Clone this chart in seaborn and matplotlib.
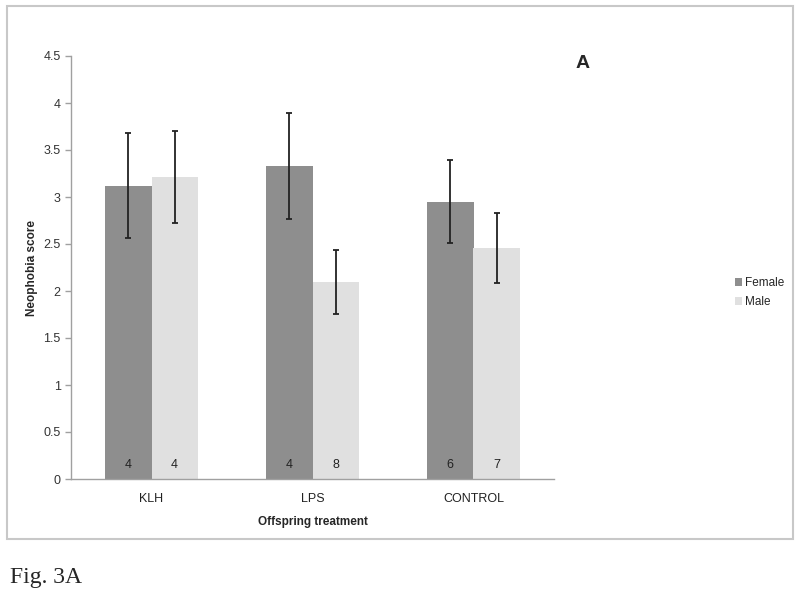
import matplotlib
matplotlib.use("Agg")
import matplotlib.pyplot as plt
import seaborn as sns
import pandas as pd
import numpy as np
from matplotlib.patches import Rectangle, Patch

treatments = ["KLH", "LPS", "CONTROL"]
sexes = ["Female", "Male"]
female_means = [3.12, 3.33, 2.95]
male_means = [3.21, 2.10, 2.46]
female_err = [0.56, 0.56, 0.44]
male_err = [0.49, 0.34, 0.37]
female_n = [4, 4, 6]
male_n = [4, 8, 7]
yticks = [0, 0.5, 1, 1.5, 2, 2.5, 3, 3.5, 4, 4.5]

df = pd.DataFrame({
    "treatment": treatments * 2,
    "sex": ["Female"] * 3 + ["Male"] * 3,
    "score": female_means + male_means,
    "err": female_err + male_err,
    "n": female_n + male_n,
})

sns.set_theme(style="white")
plt.rcParams["font.family"] = ["Liberation Sans", "DejaVu Sans"]

fig = plt.figure(figsize=(8, 5.96), dpi=100)
ax = fig.add_axes([71 / 800, 1 - 479 / 596, (554 - 71) / 800, (479 - 56) / 596])

palette = {"Female": "#8e8e8e", "Male": "#e0e0e0"}
sns.barplot(data=df, x="treatment", y="score", hue="sex", order=treatments,
            hue_order=sexes, palette=palette, width=0.575, saturation=1,
            errorbar=None, legend=False, ax=ax, linewidth=0)

# error bars and counts, positioned from the drawn bars
bars = [p for p in ax.patches if p.get_height() > 0]
bars = sorted(bars, key=lambda p: p.get_x())
for bar in bars:
    cx = bar.get_x() + bar.get_width() / 2
    h = bar.get_height()
    row = df[np.isclose(df["score"], h)].iloc[0]
    ax.errorbar(cx, h, yerr=row["err"], fmt="none", ecolor="#222222",
                elinewidth=1.3, capsize=2.5, capthick=1.3)
    ax.text(cx, 0.15, str(int(row["n"])), ha="center", va="center",
            fontsize=9, color="#222222")

ax.set_ylim(0, 4.5)
ax.set_xlim(-0.5, 2.5)
ax.set_yticks(yticks)
ax.set_yticklabels([("%g" % v) for v in yticks], fontsize=9, color="#333333")
ax.set_xticks(range(3))
ax.set_xticklabels(treatments, fontsize=9, color="#222222")
ax.set_xticks([0.5, 1.5, 2.5], minor=True)
ax.tick_params(axis="x", which="major", length=0, pad=10)
ax.tick_params(axis="x", which="minor", length=3, direction="out", color="#a0a0a0", width=1)
ax.tick_params(axis="y", which="major", length=4, direction="out", color="#a0a0a0", width=1, pad=3.5, left=True)
ax.set_ylabel("Neophobia score", fontsize=8.5, fontweight="bold", labelpad=4)
ax.set_xlabel("Offspring treatment", fontsize=8.5, fontweight="bold", labelpad=8)
for s in ["top", "right"]:
    ax.spines[s].set_visible(False)
for s in ["left", "bottom"]:
    ax.spines[s].set_color("#a0a0a0")
    ax.spines[s].set_linewidth(1)

handles = [Patch(facecolor=palette[s], edgecolor="none") for s in sexes]
fig.legend(handles, sexes, loc="center left", bbox_to_anchor=(0.905, 0.509),
           frameon=False, fontsize=8.5, handlelength=0.6, handleheight=0.6,
           handletextpad=0.3, labelspacing=0.6)

fig.text(583 / 800, 1 - 63 / 596, "A", fontsize=14, fontweight="bold",
         ha="center", va="center")

# outer frame
fig.patches.append(Rectangle((6.5 / 800, 1 - 539 / 596), (792.5 - 6.5) / 800,
                             (539 - 6) / 596, transform=fig.transFigure,
                             fill=False, edgecolor="#c8c8c8", linewidth=1.5))

fig.text(10 / 800, 1 - 577 / 596, "Fig. 3A", fontsize=17,
         family=["Liberation Serif", "DejaVu Serif"], ha="left", va="center")

fig.savefig("out.png", dpi=100)
